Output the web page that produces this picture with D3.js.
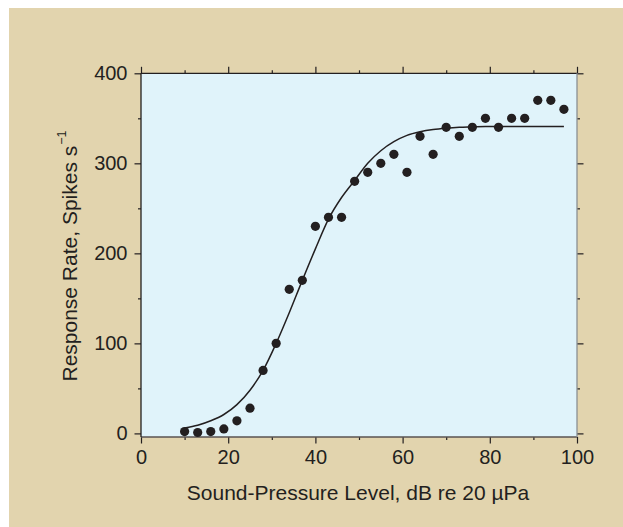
<!DOCTYPE html>
<html>
<head>
<meta charset="utf-8">
<script src="https://cdn.jsdelivr.net/npm/d3@7"></script>
<style>
  html, body { margin: 0; padding: 0; background: #ffffff; }
  svg { display: block; }
  text { font-family: "Liberation Sans", Arial, Helvetica, sans-serif; fill: #231F20; }
</style>
</head>
<body>
<svg id="chart" width="623" height="527"></svg>
<script>
// ---- data ----
const levels = [10, 13, 16, 19, 22, 25, 28, 31, 34, 37, 40, 43, 46, 49, 52, 55, 58, 61, 64, 67, 70, 73, 76, 79, 82, 85, 88, 91, 94, 97];
const rates  = [2, 1, 2, 5, 14, 28, 70, 100, 160, 170, 230, 240, 240, 280, 290, 300, 310, 290, 330, 310, 340, 330, 340, 350, 340, 350, 350, 370, 370, 360];
// fitted curve at the same levels
const fitRates = [6, 9, 14, 21, 32, 48, 70, 100, 134, 170, 205, 238, 262, 281, 300, 314, 324, 331, 335, 337.5, 339, 340, 340.5, 341, 341, 341, 341, 341, 341, 341];
const xTicks = [0, 20, 40, 60, 80, 100];
const xMinor = [10, 30, 50, 70, 90];
const yTicks = [0, 100, 200, 300, 400];
const yMinor = [50, 150, 250, 350];
const xTitle = "Sound-Pressure Level, dB re 20 \u00B5Pa";
const yTitle = "Response Rate, Spikes s";
const ySup = "\u22121";

(function () {
const svg = d3.select("#chart");
const W = 623, H = 527;
const ink = "#231F20";

// panel background
svg.append("rect").attr("x", 9).attr("y", 8).attr("width", W - 9).attr("height", H - 8).attr("fill", "#E2D4AE");

const pL = 141, pR = 577, pT = 73.3, pB = 437;
const x = d3.scaleLinear().domain([0, 100]).range([pL, pR]);
const y = d3.scaleLinear().domain([-4, 400]).range([pB, pT]);

// plot background
svg.append("rect").attr("x", pL).attr("y", pT).attr("width", pR - pL).attr("height", pB - pT).attr("fill", "#E0F3FA");

function styleAxis(g) {
  g.selectAll(".domain").remove();
  g.selectAll("line").attr("stroke", ink).attr("stroke-width", 1.2);
  g.selectAll("text").style("font-size", "20px").attr("fill", ink);
}
// bottom
const gB = svg.append("g").attr("transform", `translate(0,${pB})`);
gB.call(d3.axisBottom(x).tickValues(xTicks).tickSize(6.5).tickPadding(6.5).tickFormat(d3.format("d"))).call(styleAxis);
gB.append("g").call(d3.axisBottom(x).tickValues(xMinor).tickSize(3).tickFormat("")).call(styleAxis);
// top
const gT = svg.append("g").attr("transform", `translate(0,${pT})`);
gT.call(d3.axisTop(x).tickValues(xTicks).tickSize(6.5).tickFormat("")).call(styleAxis);
gT.append("g").call(d3.axisTop(x).tickValues(xMinor).tickSize(3).tickFormat("")).call(styleAxis);
// left
const gL = svg.append("g").attr("transform", `translate(${pL},0)`);
gL.call(d3.axisLeft(y).tickValues(yTicks).tickSize(6.5).tickPadding(7).tickFormat(d3.format("d"))).call(styleAxis);
gL.append("g").call(d3.axisLeft(y).tickValues(yMinor).tickSize(3).tickFormat("")).call(styleAxis);
// right
const gR = svg.append("g").attr("transform", `translate(${pR},0)`);
gR.call(d3.axisRight(y).tickValues(yTicks).tickSize(6.5).tickFormat("")).call(styleAxis);
gR.append("g").call(d3.axisRight(y).tickValues(yMinor).tickSize(3).tickFormat("")).call(styleAxis);

// frame
svg.append("line").attr("x1", pL).attr("x2", pR).attr("y1", pT).attr("y2", pT).attr("stroke", ink).attr("stroke-width", 1.3);
svg.append("line").attr("x1", pL).attr("x2", pR).attr("y1", pB).attr("y2", pB).attr("stroke", "#5a5350").attr("stroke-width", 1.3);
svg.append("line").attr("x1", pL).attr("x2", pL).attr("y1", pT).attr("y2", pB).attr("stroke", ink).attr("stroke-width", 1.3);
svg.append("line").attr("x1", pR).attr("x2", pR).attr("y1", pT).attr("y2", pB).attr("stroke", "#8a8f94").attr("stroke-width", 1.3);

// fitted curve
const fit = levels.map((l, i) => [l, fitRates[i]]);
svg.append("path")
  .datum(fit)
  .attr("fill", "none")
  .attr("stroke", ink)
  .attr("stroke-width", 1.5)
  .attr("d", d3.line().x(d => x(d[0])).y(d => y(d[1])).curve(d3.curveMonotoneX));

// points
svg.append("g").selectAll("circle")
  .data(levels.map((l, i) => [l, rates[i]]))
  .join("circle")
  .attr("cx", d => x(d[0]))
  .attr("cy", d => y(d[1]))
  .attr("r", 4.6)
  .attr("fill", ink);

// titles
svg.append("text")
  .attr("x", (pL + pR) / 2 - 1)
  .attr("y", 500)
  .attr("text-anchor", "middle")
  .style("font-size", "21px")
  .text(xTitle);

const yt = svg.append("text")
  .attr("transform", `translate(77,256) rotate(-90)`)
  .attr("text-anchor", "middle")
  .style("font-size", "21px");
yt.append("tspan").text(yTitle);
yt.append("tspan").attr("dx", 1).attr("dy", -11).style("font-size", "12.5px").text(ySup);
})();
</script>
</body>
</html>
